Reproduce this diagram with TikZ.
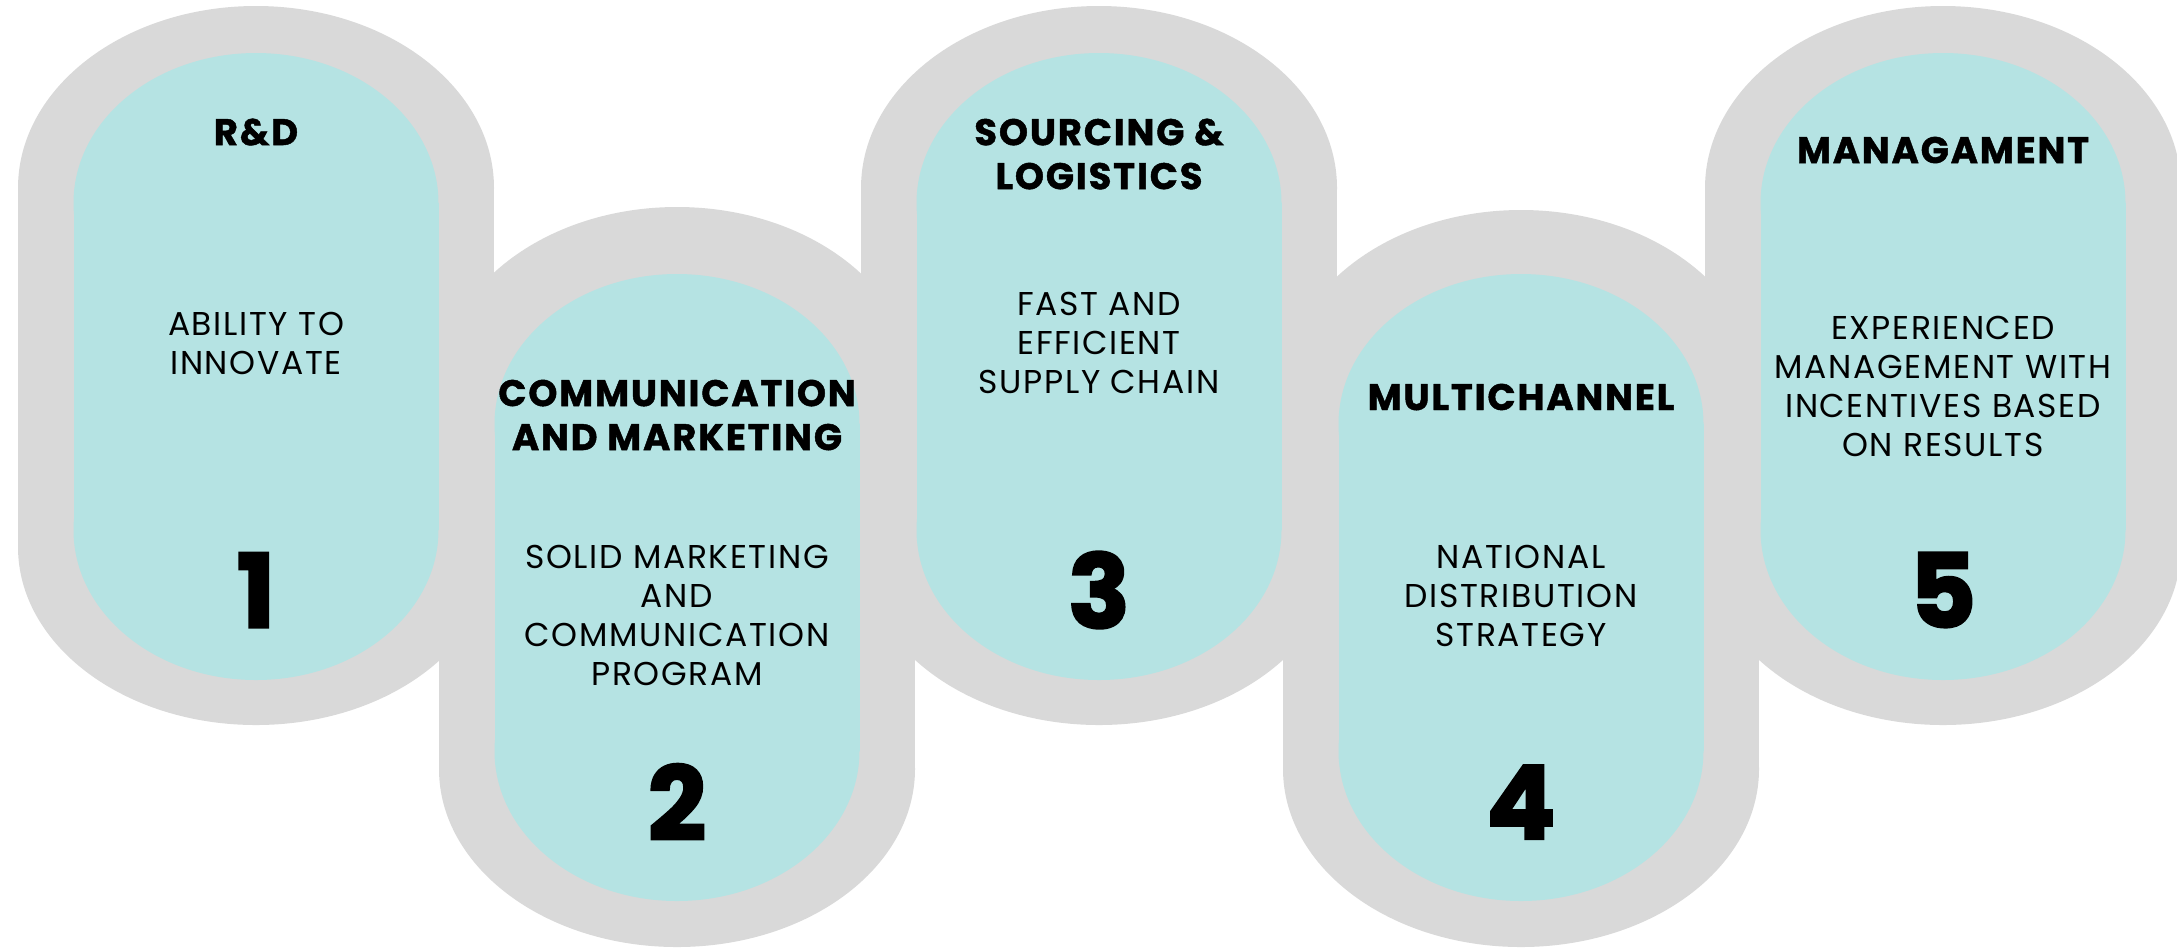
\documentclass[tikz,border=0pt]{standalone}
\usepackage{fontspec}
\setmainfont{Poppins}[LetterSpace=5]
\newfontfamily\headfont{Poppins}[LetterSpace=5,BoldFeatures={FakeBold=1.2}]
\newfontfamily\numfont{Poppins}[BoldFeatures={FakeBold=2.5}]

\definecolor{ringgray}{RGB}{217,217,217}
\definecolor{capteal}{RGB}{181,227,227}

\begin{document}
\begin{tikzpicture}[x=0.5pt,y=-0.5pt,
    heading/.style={font=\headfont\bfseries\fontsize{18.5}{22}\selectfont, align=center},
    blurb/.style={font=\fontsize{16.5}{19.5}\selectfont, align=center},
    bignum/.style={font=\numfont\bfseries\fontsize{51}{51}\selectfont}]

  \useasboundingbox (0,0) rectangle (2177,950);

  % grey rings behind the capsules (x, outer top, outer bottom)
  \foreach \cx/\top/\bot in {256/6/725, 677/207/947, 1099/6/725, 1521/210/947, 1943/6/725} {
    \fill[ringgray] (\cx,\top+182) ellipse [x radius=238, y radius=182];
    \fill[ringgray] (\cx,\bot-178) ellipse [x radius=238, y radius=178];
    \fill[ringgray] (\cx-238,\top+182) rectangle (\cx+238,\bot-178);
  }

  % teal capsules (x, top)
  \foreach \cx/\top in {256/53, 677/274, 1099/53, 1521/274, 1943/53} {
    \fill[capteal] (\cx,\top+150) ellipse [x radius=182.5, y radius=150];
    \fill[capteal] (\cx,\top+477) ellipse [x radius=182.5, y radius=150];
    \fill[capteal] (\cx-182.5,\top+150) rectangle (\cx+182.5,\top+477);
  }

  % headings
  \node[heading] (head1) at (256,132) {R\&D};
  \node[heading] (head2) at (677,415) {COMMUNICATION\\AND MARKETING};
  \node[heading] (head3) at (1099,154) {SOURCING \&\\LOGISTICS};
  \node[heading] (head4) at (1521,397) {MULTICHANNEL};
  \node[heading] (head5) at (1943,150) {MANAGAMENT};

  % short descriptions
  \node[blurb] (text1) at (256,343) {ABILITY TO\\INNOVATE};
  \node[blurb] (text2) at (677,615) {SOLID MARKETING\\AND\\COMMUNICATION\\PROGRAM};
  \node[blurb] (text3) at (1099,343) {FAST AND\\EFFICIENT\\SUPPLY CHAIN};
  \node[blurb] (text4) at (1521,596) {NATIONAL\\DISTRIBUTION\\STRATEGY};
  \node[blurb] (text5) at (1943,386) {EXPERIENCED\\MANAGEMENT WITH\\INCENTIVES BASED\\ON RESULTS};

  % step numbers
  \node[bignum] (num1) at (256,590) {1};
  \node[bignum] (num2) at (677,802) {2};
  \node[bignum] (num3) at (1099,590) {3};
  \node[bignum] (num4) at (1521,802) {4};
  \node[bignum] (num5) at (1943,590) {5};

\end{tikzpicture}
\end{document}
